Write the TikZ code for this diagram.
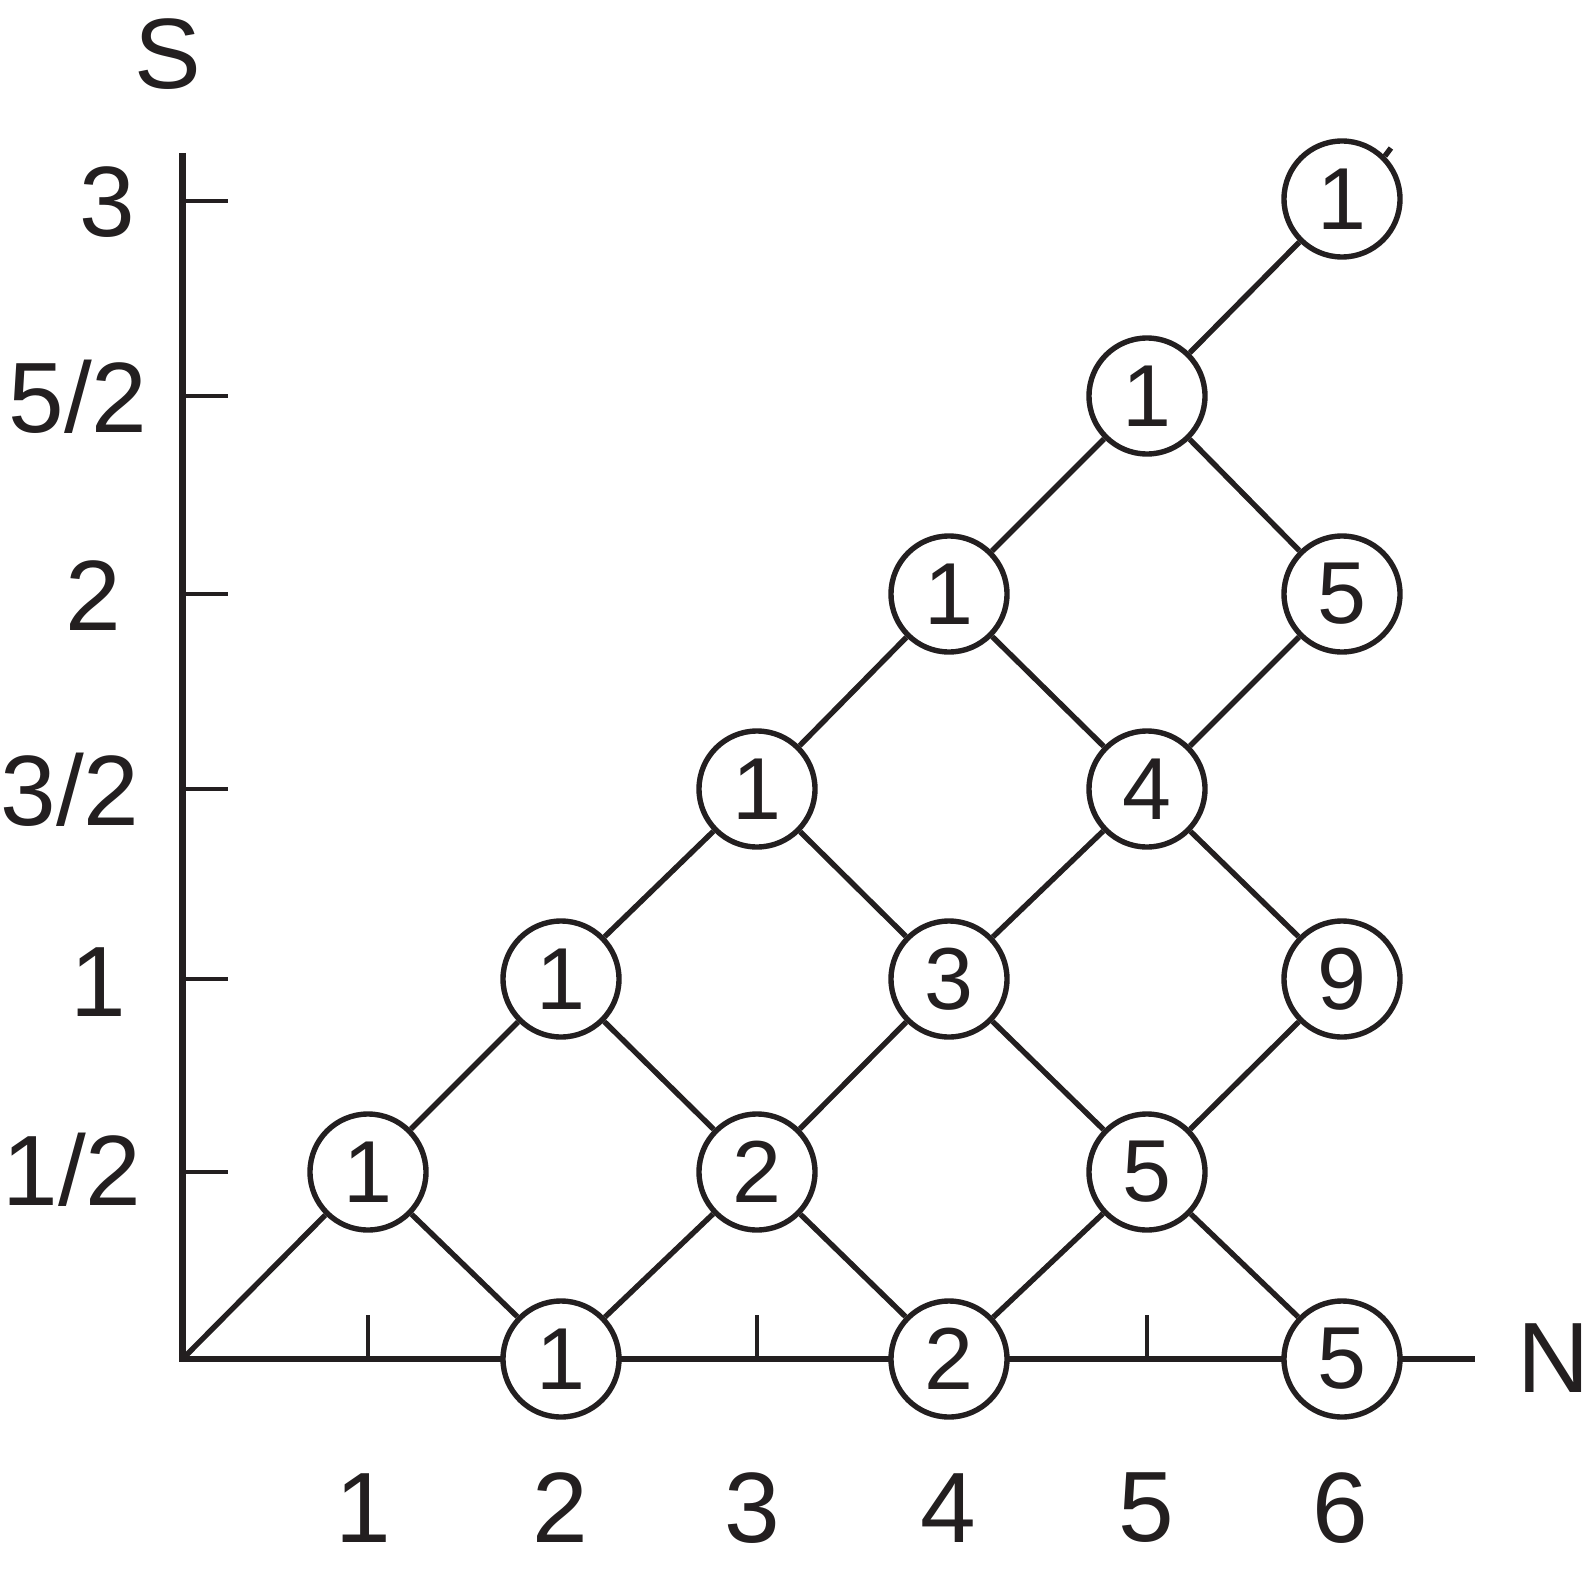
\documentclass[tikz,border=0pt]{standalone}
\usepackage{fontspec}
\setmainfont{Liberation Sans}
\definecolor{ink}{RGB}{35,31,32}
\begin{document}
\begin{tikzpicture}[x=0.5pt,y=-0.5pt, color=ink,
  axis/.style={line width=3.2pt},
  tickmark/.style={line width=1.6pt},
  edge/.style={line width=2.7pt},
  st/.style={circle, draw, line width=2.7pt, fill=white, minimum size=58pt, inner sep=0pt, font=\fontsize{44}{44}\selectfont},
  lab/.style={inner sep=0pt, font=\fontsize{50}{50}\selectfont}]
\useasboundingbox (0,0) rectangle (1590,1573);
% axes
\coordinate (O) at (182.5,1359);
\coordinate (Stop) at (182.5,153);
\coordinate (Nend) at (1475,1359);
\draw[axis] (Stop) -- (182.5,1362);
\draw[axis] (181,1359) -- (Nend);
% S ticks
\foreach \y in {1172,979,789,594,396,201}
  \draw[tickmark] (182.5,\y) -- (228,\y);
% N ticks
\foreach \x in {368,561,757,949,1147,1342}
  \draw[tickmark] (\x,1359) -- (\x,1315);
% axis labels
\node[lab] (S) at (168,54) {S};
\node[lab] (N) at (1554,1358) {N};
\node[lab] (s6) at (107,202) {3};
\node[lab] (s5) at (78,397) {5/2};
\node[lab] (s4) at (93,596) {2};
\node[lab] (s3) at (70,790) {3/2};
\node[lab] (s2) at (98,982) {1};
\node[lab] (s1) at (72,1170) {1/2};
\node[lab] (x1) at (363,1508) {1};
\node[lab] (x2) at (560,1508) {2};
\node[lab] (x3) at (752,1508) {3};
\node[lab] (x4) at (948,1508) {4};
\node[lab] (x5) at (1146,1508) {5};
\node[lab] (x6) at (1340,1508) {6};
% states
\node[st] (n11) at (368,1172) {1};
\node[st] (n20) at (561,1359) {1};
\node[st] (n22) at (561,979) {1};
\node[st] (n31) at (757,1172) {2};
\node[st] (n33) at (757,789) {1};
\node[st] (n40) at (949,1359) {2};
\node[st] (n42) at (949,979) {3};
\node[st] (n44) at (949,594) {1};
\node[st] (n51) at (1147,1172) {5};
\node[st] (n53) at (1147,789) {4};
\node[st] (n55) at (1147,396) {1};
\node[st] (n60) at (1342,1359) {5};
\node[st] (n62) at (1342,979) {9};
\node[st] (n64) at (1342,594) {5};
\node[st] (n66) at (1342,199) {1};
% connectors
\draw[edge] (O) -- (n11);
\draw[edge] (n11) -- (n20);
\draw[edge] (n11) -- (n22);
\draw[edge] (n20) -- (n31);
\draw[edge] (n22) -- (n31);
\draw[edge] (n22) -- (n33);
\draw[edge] (n31) -- (n40);
\draw[edge] (n31) -- (n42);
\draw[edge] (n33) -- (n42);
\draw[edge] (n33) -- (n44);
\draw[edge] (n40) -- (n51);
\draw[edge] (n42) -- (n51);
\draw[edge] (n42) -- (n53);
\draw[edge] (n44) -- (n53);
\draw[edge] (n44) -- (n55);
\draw[edge] (n51) -- (n60);
\draw[edge] (n51) -- (n62);
\draw[edge] (n53) -- (n62);
\draw[edge] (n53) -- (n64);
\draw[edge] (n55) -- (n64);
\draw[edge] (n55) -- (n66);
\coordinate (stub) at ([shift={(6,-8)}]n66.45);
\draw[edge] (n66.45) -- (stub);
\end{tikzpicture}
\end{document}
